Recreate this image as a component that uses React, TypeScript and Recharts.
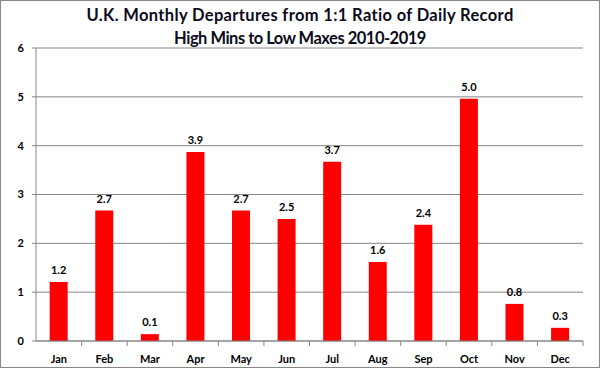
import React from "react";
import { BarChart, Bar, XAxis, YAxis, CartesianGrid, LabelList } from "recharts";

const months = ["Jan", "Feb", "Mar", "Apr", "May", "Jun", "Jul", "Aug", "Sep", "Oct", "Nov", "Dec"];
const departures = [1.21, 2.67, 0.14, 3.87, 2.67, 2.5, 3.67, 1.62, 2.38, 4.96, 0.76, 0.27];
const yTicks = [0, 1, 2, 3, 4, 5, 6];
const titleLines = ["U.K. Monthly Departures from 1:1 Ratio of Daily Record", "High Mins to Low Maxes 2010-2019"];

const data = months.map((m, i) => ({ month: m, value: departures[i] }));

const FONT = "Lato, 'Open Sans', sans-serif";
const AXIS = "#868686";

const XTick = (props: any) => {
  const { x, y, payload } = props;
  const band = (583 - 36) / 12;
  return (
    <g>
      <line x1={x + band / 2} y1={y - 8} x2={x + band / 2} y2={y - 3} stroke={AXIS} strokeWidth={1} />
      <text x={x} y={y + 14} textAnchor="middle" fontFamily={FONT} fontWeight="bold" fontSize={11} fill="#000">
        {payload.value}
      </text>
    </g>
  );
};

export default function App() {
  return (
    <div
      style={{
        position: "fixed",
        left: 0,
        top: 0,
        width: 600,
        height: 368,
        boxSizing: "border-box",
        border: `1px solid ${AXIS}`,
        background: "#fff",
        overflow: "hidden",
      }}
    >
      <div
        style={{
          position: "absolute",
          left: 0,
          top: 3,
          width: 598,
          textAlign: "center",
          fontFamily: FONT,
          fontWeight: "bold",
          fontSize: 16.5,
          lineHeight: "23px",
          color: "#0b0b1a",
        }}
      >
        <div style={{ letterSpacing: 0.35 }}>{titleLines[0]}</div>
        <div style={{ letterSpacing: -0.5 }}>{titleLines[1]}</div>
      </div>
      <div style={{ position: "absolute", left: -1, top: -1 }}>
        <BarChart
          width={600}
          height={368}
          data={data}
          margin={{ top: 48, right: 17, bottom: 0, left: 0 }}
          barCategoryGap="30%"
        >
          <CartesianGrid vertical={false} stroke={AXIS} strokeWidth={1} />
          <XAxis
            dataKey="month"
            height={27}
            axisLine={{ stroke: AXIS }}
            tickLine={false}
            tick={<XTick />}
            interval={0}
          />
          <YAxis
            width={36}
            domain={[0, 6]}
            ticks={yTicks}
            axisLine={{ stroke: AXIS }}
            tickLine={{ stroke: AXIS }}
            tickSize={4}
            tick={{ fontFamily: FONT, fontWeight: "bold", fontSize: 11, fill: "#000" }}
            tickMargin={8}
          />
          <Bar dataKey="value" fill="#FF0000" isAnimationActive={false}>
            <LabelList
              dataKey="value"
              position="top"
              offset={8}
              formatter={(v: any) => Number(v).toFixed(1)}
              style={{ fontFamily: FONT, fontWeight: "bold", fontSize: 11, fill: "#000" }}
            />
          </Bar>
        </BarChart>
      </div>
    </div>
  );
}
